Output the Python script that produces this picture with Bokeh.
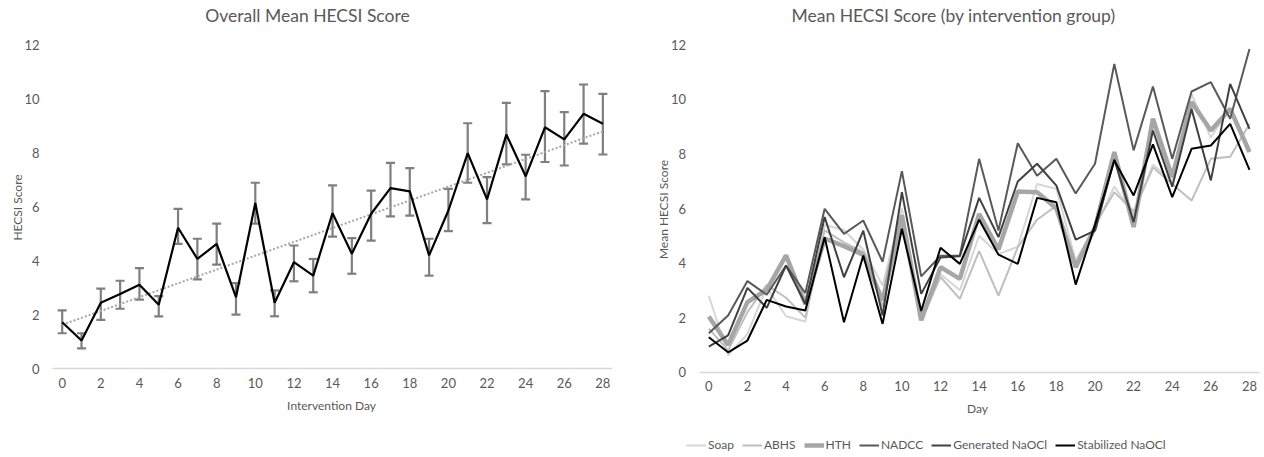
import math
import numpy as np
from bokeh.plotting import figure
from bokeh.models import (ColumnDataSource, Whisker, TeeHead, FixedTicker, Range1d,
                          Legend, LegendItem, Label)
from bokeh.layouts import row
from bokeh.embed import file_html
from bokeh.resources import INLINE

# ---------------- data ----------------
days = list(range(29))
x_ticks = list(range(0, 29, 2))
y_ticks = [0, 2, 4, 6, 8, 10, 12]

overall_mean = [1.72, 1.04, 2.44, 2.77, 3.11, 2.37, 5.23, 4.07, 4.63, 2.65, 6.15, 2.44, 3.95, 3.45,
                5.77, 4.26, 5.75, 6.70, 6.58, 4.20, 5.87, 8.00, 6.28, 8.69, 7.14, 8.96, 8.51, 9.46, 9.09]
overall_upper = [2.16, 1.31, 2.97, 3.26, 3.73, 2.69, 5.93, 4.82, 5.38, 3.17, 6.90, 2.90, 4.57, 4.07,
                 6.80, 4.84, 6.61, 7.64, 7.44, 4.82, 6.67, 9.11, 7.11, 9.87, 7.94, 10.30, 9.52, 10.55, 10.20]
overall_lower = [1.31, 0.75, 1.81, 2.22, 2.56, 1.94, 4.63, 3.31, 3.86, 2.00, 5.38, 1.94, 3.24, 2.83,
                 4.90, 3.52, 4.75, 5.65, 5.68, 3.45, 5.10, 6.90, 5.40, 7.58, 6.28, 7.67, 7.54, 8.35, 7.95]

soap = [2.80, 0.62, 1.40, 3.12, 2.05, 1.86, 5.40, 5.20, 4.50, 3.18, 6.00, 2.00, 3.60, 3.00,
        5.00, 4.33, 4.60, 6.90, 6.72, 4.10, 5.30, 6.80, 5.80, 7.60, 7.00, 10.20, 8.60, 9.70, 8.20]
abhs = [1.60, 0.80, 2.20, 3.20, 2.73, 2.00, 5.20, 4.76, 4.40, 2.40, 5.50, 1.90, 3.49, 2.69,
        4.44, 2.81, 4.58, 5.59, 6.10, 4.00, 5.40, 6.60, 5.90, 7.50, 6.90, 6.29, 7.82, 7.90, 9.10]
hth = [2.04, 1.00, 2.57, 3.02, 4.28, 2.50, 4.90, 4.62, 4.30, 2.63, 5.75, 1.90, 3.85, 3.42,
       5.80, 4.50, 6.62, 6.60, 6.00, 3.85, 5.30, 8.07, 5.32, 9.29, 7.15, 9.90, 8.86, 9.65, 8.07]
nadcc = [1.43, 2.08, 3.34, 2.84, 3.91, 2.90, 5.99, 5.07, 5.56, 4.05, 7.37, 3.51, 4.27, 4.27,
         7.82, 5.19, 8.39, 7.20, 7.82, 6.55, 7.64, 11.30, 8.13, 10.47, 7.82, 10.29, 10.63, 9.29, 11.85]
generated = [0.94, 1.35, 3.09, 2.36, 3.91, 2.50, 5.69, 3.48, 5.19, 2.08, 6.60, 2.87, 4.20, 4.25,
             6.39, 4.95, 6.99, 7.64, 6.84, 4.86, 5.19, 7.80, 5.50, 8.86, 6.80, 9.65, 7.03, 10.57, 8.92]
stabilized = [1.28, 0.73, 1.16, 2.65, 2.41, 2.26, 4.95, 1.83, 4.28, 1.77, 5.26, 2.24, 4.56, 3.97,
              5.59, 4.31, 3.97, 6.39, 6.23, 3.21, 5.40, 7.76, 6.48, 8.35, 6.42, 8.19, 8.31, 9.10, 7.42]

group_names = ["Soap", "ABHS", "HTH", "NADCC", "Generated NaOCl", "Stabilized NaOCl"]
group_values = [soap, abhs, hth, nadcc, generated, stabilized]
group_colors = ["#d6d6d6", "#bfbfbf", "#a6a6a6", "#595959", "#404040", "#000000"]
group_widths = [2, 2, 4.5, 2, 2, 2]

FONT = "Lato"
TXT = "#595959"
H = 452


def make_fig(w, xr, yr):
    p = figure(frame_width=w, frame_height=H, min_border=0, title=None,
               x_range=Range1d(*xr), y_range=Range1d(*yr),
               output_backend="svg", toolbar_location=None)
    p.xgrid.visible = False
    p.ygrid.visible = False
    p.outline_line_color = None
    p.background_fill_color = "white"
    p.border_fill_color = "white"

    xa = p.xaxis[0]
    xa.fixed_location = 0
    xa.bounds = (-0.5, 28.5)
    xa.ticker = FixedTicker(ticks=x_ticks)
    xa.axis_line_color = "#d9d9d9"
    xa.axis_line_width = 1.5
    xa.major_tick_line_color = None
    xa.minor_tick_line_color = None
    xa.major_tick_out = 0
    xa.major_tick_in = 0
    xa.major_label_standoff = 9
    xa.major_label_text_font = FONT
    xa.major_label_text_font_size = "13px"
    xa.major_label_text_color = TXT

    ya = p.yaxis[0]
    ya.fixed_location = -0.5
    ya.bounds = (0, 12)
    ya.ticker = FixedTicker(ticks=y_ticks)
    ya.axis_line_color = None
    ya.major_tick_line_color = None
    ya.minor_tick_line_color = None
    ya.major_tick_out = 0
    ya.major_tick_in = 0
    ya.major_label_standoff = 13
    ya.major_label_text_font = FONT
    ya.major_label_text_font_size = "13px"
    ya.major_label_text_color = TXT
    return p


def add_text(p, text, x, y, size, angle=0.0):
    p.add_layout(Label(x=x, y=y, x_units="screen", y_units="screen", text=text,
                       text_font=FONT, text_font_size=size, text_color=TXT,
                       text_align="center", text_baseline="middle", angle=angle))


# ---------------- left chart ----------------
p1 = make_fig(636, (-3.195, 29.741), (-3.120, 13.670))
add_text(p1, "Overall Mean HECSI Score", 307, 437, "17.5px")
add_text(p1, "HECSI Score", 17, 245, "12px", math.pi / 2)
add_text(p1, "Intervention Day", 331, 47, "12px")

src = ColumnDataSource(dict(day=days, mean=overall_mean, upper=overall_upper, lower=overall_lower))
coef = np.polyfit(days, overall_mean, 1)
trend_x = [days[0], days[-1]]
trend_y = [coef[1] + coef[0] * d for d in trend_x]
p1.line(trend_x, trend_y, line_color="#a6a6a6", line_width=2, line_dash="2 2")

wh = Whisker(source=src, base="day", upper="upper", lower="lower",
             line_color="#7f7f7f", line_width=2.2,
             upper_head=TeeHead(size=9, line_color="#7f7f7f", line_width=2.2),
             lower_head=TeeHead(size=9, line_color="#7f7f7f", line_width=2.2))
p1.add_layout(wh)
p1.line("day", "mean", source=src, line_color="black", line_width=2.2)

# ---------------- right chart ----------------
p2 = make_fig(626, (-3.744, 28.674), (-2.944, 13.625))
add_text(p2, "Mean HECSI Score (by intervention group)", 317, 437, "17.5px")
add_text(p2, "Mean HECSI Score", 27, 243, "12px", math.pi / 2)
add_text(p2, "Day", 341, 44, "12px")

items = []
for name, vals, col, w in zip(group_names, group_values, group_colors, group_widths):
    r = p2.line(days, vals, line_color=col, line_width=w)
    items.append(LegendItem(label=name, renderers=[r]))

legend = Legend(items=items, orientation="horizontal", location=(50, 0),
                label_text_font=FONT, label_text_font_size="12px", label_text_color=TXT,
                glyph_width=20, glyph_height=12, label_height=14, label_standoff=2, spacing=8,
                padding=0, margin=0, border_line_color=None, background_fill_alpha=0)
p2.add_layout(legend, "center")

layout = row(p1, p2)
open("out.html", "w").write(file_html(layout, INLINE))
